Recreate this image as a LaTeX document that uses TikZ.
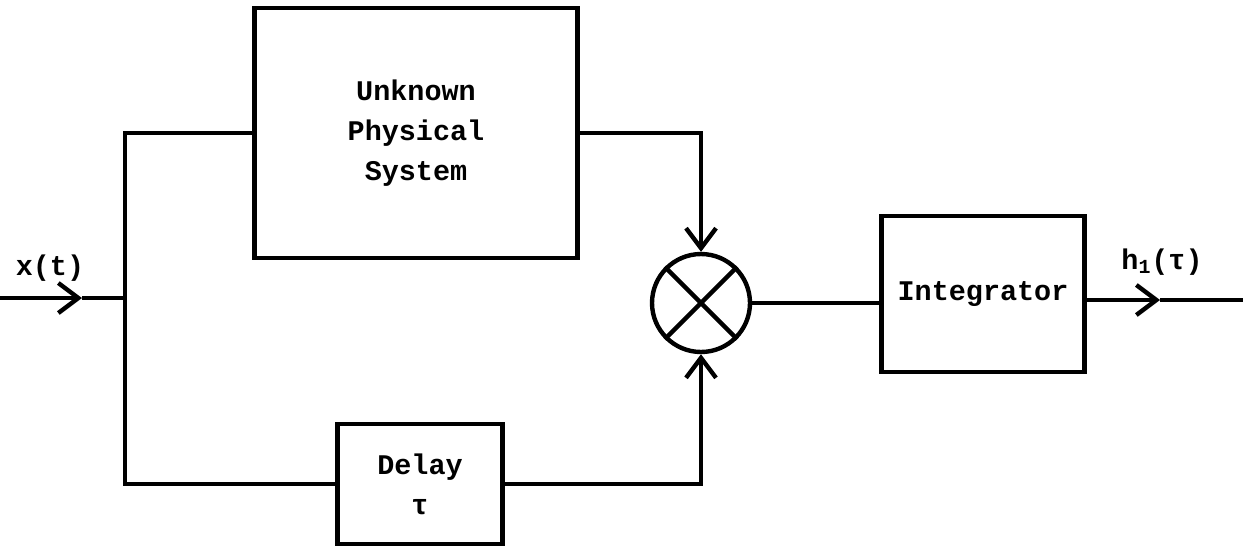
\documentclass[tikz,border=0pt]{standalone}
\usepackage{fontspec}
\setmonofont{Liberation Mono}
\usepackage{tikz}
\usetikzlibrary{arrows.meta, positioning, calc}

\begin{document}
\begin{tikzpicture}[
				x=0.02cm, y=-0.02cm,
				block/.style={rectangle, draw, line width=2.5pt, inner sep=0pt, align=center,
					font=\fontsize{16.2}{22.7}\selectfont\ttfamily\bfseries},
				mult/.style={circle, draw, line width=2.5pt, minimum size=1.96cm, inner sep=0pt},
				line/.style={line width=2.5pt},
				arrow/.style={line width=2.5pt, -{Straight Barb[length=4mm, width=6mm, line width=2.5pt]}},
				slabel/.style={font=\fontsize{16.2}{19}\selectfont\ttfamily\bfseries}
				]
				\useasboundingbox (0,0) rectangle (1243,548);

				\node[block, minimum width=6.46cm, minimum height=5.0cm] (unk) at (416,133) {Unknown\\Physical\\System};
				\node[block, minimum width=3.3cm, minimum height=2.4cm] (delay) at (420,484) {Delay\\τ};
				\node[mult] (mult) at (701,303) {};
				\node[block, minimum width=4.06cm, minimum height=3.12cm] (integ) at (983,294) {Integrator};
				\draw[line] (mult.45) -- (mult.225);
				\draw[line] (mult.135) -- (mult.315);

				\coordinate (in) at (0,298);
				\coordinate (inarr) at (82,298);
				\coordinate (split) at (125,298);
				\coordinate (outarr) at (1160,300);
				\coordinate (out) at (1243,300);

				\node[slabel] (xlab) at (50,268) {x(t)};
				\node[slabel] (hlab) at (1162,262) {h\textsubscript{1}(τ)};

				\draw[arrow] (in) -- (inarr);
				\draw[line] (inarr) -- (split);
				\draw[line] (split) |- (unk.west);
				\draw[line] (split) |- (delay.west);
				\draw[arrow] (unk.east) -| (mult.north);
				\draw[arrow] (delay.east) -| (mult.south);
				\draw[line] (mult.east) -- (mult.east -| integ.west);
				\draw[arrow] (integ.east |- outarr) -- (outarr);
				\draw[line] (outarr) -- (out);
			\end{tikzpicture}
\end{document}
